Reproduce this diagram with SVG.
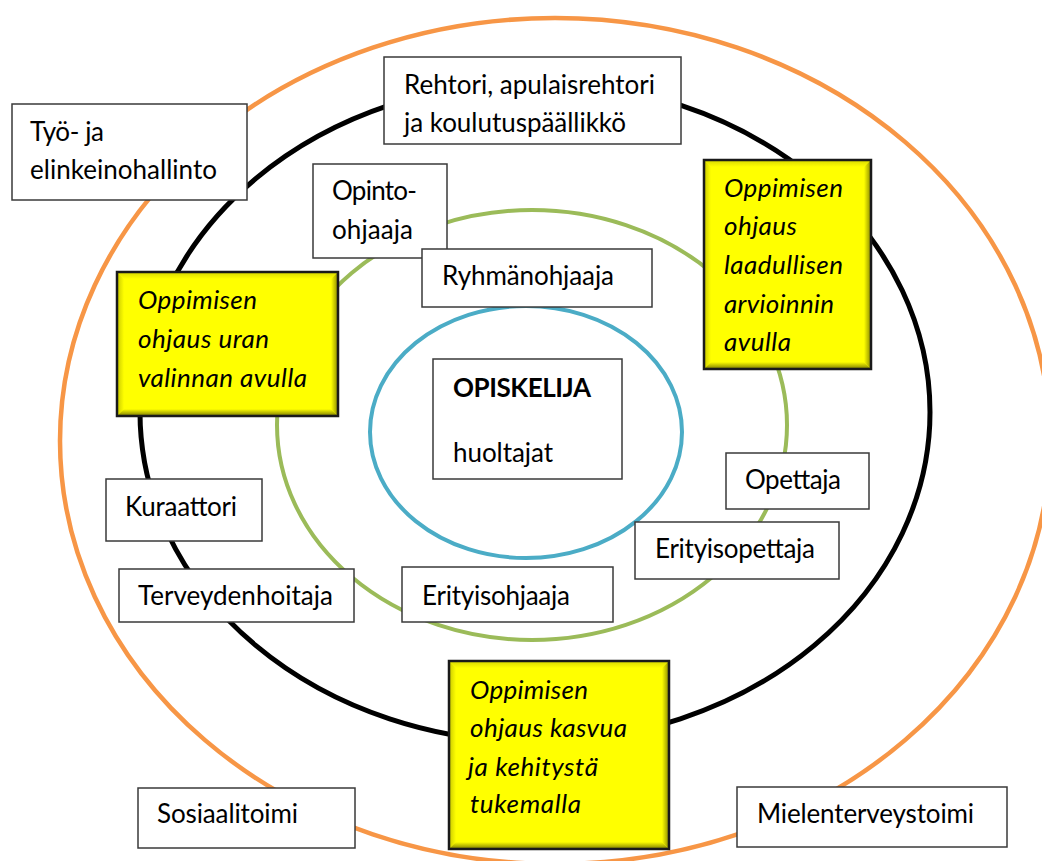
<svg xmlns="http://www.w3.org/2000/svg" width="1042" height="861" viewBox="0 0 1042 861">
<style>
.bx{fill:#fff;stroke:#3a3a3a;stroke-width:1.5}
.yb{fill:#ffff00}
.ys{fill:none;stroke:#1a1a1a;stroke-width:2.5}
.t{font-family:Lato,"Liberation Sans",sans-serif;font-size:26px;fill:#000}
.i{font-style:italic}
.b{font-weight:bold}
.ring{fill:none}
</style>
<defs>
<linearGradient id="gR" x1="0" y1="0" x2="1" y2="0"><stop offset="0" stop-color="#ffff00"/><stop offset="1" stop-color="#8a8a00"/></linearGradient>
<linearGradient id="gB" x1="0" y1="0" x2="0" y2="1"><stop offset="0" stop-color="#ffff00"/><stop offset="1" stop-color="#7a7a00"/></linearGradient>
<linearGradient id="gL" x1="1" y1="0" x2="0" y2="0"><stop offset="0" stop-color="#ffff00"/><stop offset="1" stop-color="#c8c800"/></linearGradient>
<linearGradient id="gT" x1="0" y1="1" x2="0" y2="0"><stop offset="0" stop-color="#ffff00"/><stop offset="1" stop-color="#d8d800"/></linearGradient>
</defs>
<rect width="1042" height="861" fill="#fff"/>
<g id="rings">
<ellipse class="ring" cx="555" cy="441" rx="495" ry="423" stroke="#f79646" stroke-width="4.5"/>
<ellipse class="ring" cx="535" cy="412" rx="395" ry="330" stroke="#000" stroke-width="5"/>
<ellipse class="ring" cx="532" cy="425" rx="255" ry="215" stroke="#9bbb59" stroke-width="4"/>
<ellipse class="ring" cx="526" cy="432" rx="156" ry="126" stroke="#4bacc6" stroke-width="4"/>
</g>
<g id="tyo">
<rect class="bx" x="12" y="104" width="235" height="96"/>
<text class="t" x="30" y="141" textLength="74">Työ- ja</text>
<text class="t" x="30" y="179" textLength="187">elinkeinohallinto</text>
</g>
<g id="rehtori">
<rect class="bx" x="384" y="57" width="297" height="87"/>
<text class="t" x="404" y="94" textLength="251">Rehtori, apulaisrehtori</text>
<text class="t" x="404" y="132" textLength="222">ja koulutuspäällikkö</text>
</g>
<g id="opinto">
<rect class="bx" x="313" y="164" width="134" height="94"/>
<text class="t" x="332" y="200" textLength="85">Opinto-</text>
<text class="t" x="332" y="239" textLength="81">ohjaaja</text>
</g>
<g id="ryhma">
<rect class="bx" x="422" y="249" width="230" height="58"/>
<text class="t" x="442" y="285" textLength="172">Ryhmänohjaaja</text>
</g>
<g id="uran">
<rect class="yb" x="117" y="272" width="221" height="144"/>
<polygon points="117,272 338,272 331,279 124,279" fill="url(#gT)"/>
<polygon points="117,272 124,279 124,409 117,416" fill="url(#gL)"/>
<polygon points="338,272 338,416 331,409 331,279" fill="url(#gR)"/>
<polygon points="117,416 338,416 331,409 124,409" fill="url(#gB)"/>
<rect class="ys" x="117" y="272" width="221" height="144"/>
<text class="t i" x="138" y="309" textLength="119">Oppimisen</text>
<text class="t i" x="138" y="348" textLength="131">ohjaus uran</text>
<text class="t i" x="138" y="387" textLength="169">valinnan avulla</text>
</g>
<g id="laadullisen">
<rect class="yb" x="704" y="160" width="167" height="209"/>
<polygon points="704,160 871,160 864,167 711,167" fill="url(#gT)"/>
<polygon points="704,160 711,167 711,362 704,369" fill="url(#gL)"/>
<polygon points="871,160 871,369 864,362 864,167" fill="url(#gR)"/>
<polygon points="704,369 871,369 864,362 711,362" fill="url(#gB)"/>
<rect class="ys" x="704" y="160" width="167" height="209"/>
<text class="t i" x="724" y="197" textLength="119">Oppimisen</text>
<text class="t i" x="724" y="235" textLength="73">ohjaus</text>
<text class="t i" x="724" y="274" textLength="119">laadullisen</text>
<text class="t i" x="724" y="313" textLength="110">arvioinnin</text>
<text class="t i" x="724" y="351" textLength="67">avulla</text>
</g>
<g id="opiskelija">
<rect class="bx" x="433" y="359" width="189" height="120"/>
<text class="t b" x="453" y="397" textLength="138">OPISKELIJA</text>
<text class="t" x="453" y="462" textLength="100">huoltajat</text>
</g>
<g id="kuraattori">
<rect class="bx" x="106" y="479" width="156" height="62"/>
<text class="t" x="125" y="516" textLength="112">Kuraattori</text>
</g>
<g id="terveydenhoitaja">
<rect class="bx" x="119" y="569" width="235" height="53"/>
<text class="t" x="138" y="605" textLength="195">Terveydenhoitaja</text>
</g>
<g id="erityisohjaaja">
<rect class="bx" x="402" y="567" width="211" height="55"/>
<text class="t" x="422" y="605" textLength="148">Erityisohjaaja</text>
</g>
<g id="opettaja">
<rect class="bx" x="726" y="453" width="143" height="56"/>
<text class="t" x="745" y="489" textLength="96">Opettaja</text>
</g>
<g id="erityisopettaja">
<rect class="bx" x="635" y="522" width="204" height="57"/>
<text class="t" x="655" y="558" textLength="160">Erityisopettaja</text>
</g>
<g id="kasvua">
<rect class="yb" x="449" y="661" width="220" height="188"/>
<polygon points="449,661 669,661 662,668 456,668" fill="url(#gT)"/>
<polygon points="449,661 456,668 456,842 449,849" fill="url(#gL)"/>
<polygon points="669,661 669,849 662,842 662,668" fill="url(#gR)"/>
<polygon points="449,849 669,849 662,842 456,842" fill="url(#gB)"/>
<rect class="ys" x="449" y="661" width="220" height="188"/>
<text class="t i" x="470" y="699" textLength="118">Oppimisen</text>
<text class="t i" x="470" y="737" textLength="157">ohjaus kasvua</text>
<text class="t i" x="468" y="776" textLength="130">ja kehitystä</text>
<text class="t i" x="470" y="813" textLength="111">tukemalla</text>
</g>
<g id="sosiaalitoimi">
<rect class="bx" x="138" y="788" width="217" height="60"/>
<text class="t" x="157" y="823" textLength="141">Sosiaalitoimi</text>
</g>
<g id="mielenterveystoimi">
<rect class="bx" x="737" y="787" width="270" height="60"/>
<text class="t" x="757" y="823" textLength="217">Mielenterveystoimi</text>
</g>
</svg>
